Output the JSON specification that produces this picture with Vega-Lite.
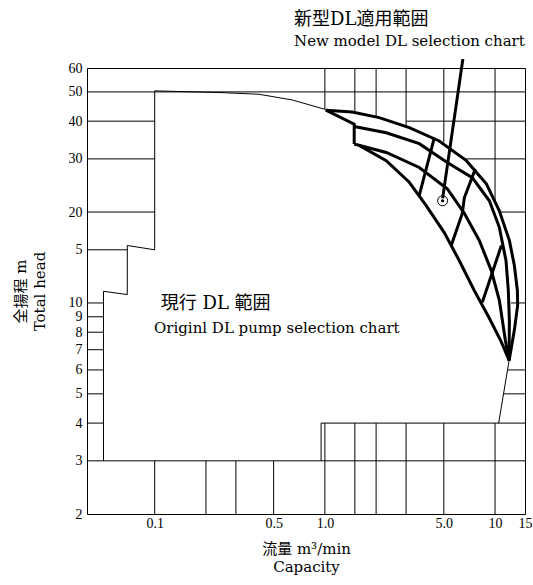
{
  "$schema": "https://vega.github.io/schema/vega-lite/v6.json",
  "autosize": {"type": "none"},
  "padding": {"left": 87, "top": 68, "right": 8, "bottom": 71},
  "width": 438,
  "height": 446,
  "background": "white",
  "config": {
    "view": {"stroke": "black", "strokeWidth": 1},
    "axis": {"grid": false, "ticks": false, "tickSize": 0, "domain": false, "labelColor": "black", "titleColor": "black", "titleFontWeight": "normal", "labelFont": "Liberation Serif", "titleFont": "DejaVu Serif, Noto Sans CJK JP", "labelOverlap": false, "labelFlush": false, "labelBound": false}
  },
  "title": {"text": "新型DL適用範囲", "subtitle": "New model DL selection chart", "anchor": "start", "frame": "group", "dx": 207, "offset": 4, "font": "DejaVu Serif, Noto Sans CJK JP", "subtitleFont": "DejaVu Serif, Noto Sans CJK JP", "fontSize": 18, "subtitleFontSize": 15, "fontWeight": "normal", "color": "black", "subtitleColor": "black", "subtitlePadding": 5},
  "datasets": {
    "grid": [
      {"x": 0.04, "x2": 0.05, "y": 4, "y2": 4},
      {"x": 0.04, "x2": 0.05, "y": 5, "y2": 5},
      {"x": 0.04, "x2": 0.05, "y": 6, "y2": 6},
      {"x": 0.04, "x2": 0.05, "y": 7, "y2": 7},
      {"x": 0.04, "x2": 0.05, "y": 8, "y2": 8},
      {"x": 0.04, "x2": 0.05, "y": 9, "y2": 9},
      {"x": 0.04, "x2": 0.05, "y": 10, "y2": 10},
      {"x": 0.04, "x2": 0.069, "y": 15, "y2": 15},
      {"x": 0.04, "x2": 0.1, "y": 20, "y2": 20},
      {"x": 0.04, "x2": 0.1, "y": 30, "y2": 30},
      {"x": 0.04, "x2": 0.1, "y": 40, "y2": 40},
      {"x": 0.04, "x2": 15, "y": 50, "y2": 50},
      {"x": 0.04, "x2": 15, "y": 3, "y2": 3},
      {"x": 3, "x2": 15, "y": 40, "y2": 40},
      {"x": 6.75, "x2": 15, "y": 30, "y2": 30},
      {"x": 10.7, "x2": 15, "y": 20, "y2": 20},
      {"x": 12.4, "x2": 15, "y": 10, "y2": 10},
      {"x": 11.8, "x2": 15, "y": 6, "y2": 6},
      {"x": 11.2, "x2": 15, "y": 5, "y2": 5},
      {"x": 0.95, "x2": 15, "y": 4, "y2": 4},
      {"x": 0.1, "x2": 0.1, "y": 2, "y2": 3},
      {"x": 0.2, "x2": 0.2, "y": 2, "y2": 3},
      {"x": 0.3, "x2": 0.3, "y": 2, "y2": 3},
      {"x": 0.5, "x2": 0.5, "y": 2, "y2": 3},
      {"x": 0.95, "x2": 0.95, "y": 3, "y2": 4},
      {"x": 1, "x2": 1, "y": 2, "y2": 4},
      {"x": 1.5, "x2": 1.5, "y": 2, "y2": 4},
      {"x": 2, "x2": 2, "y": 2, "y2": 4},
      {"x": 3, "x2": 3, "y": 2, "y2": 4},
      {"x": 5, "x2": 5, "y": 2, "y2": 4},
      {"x": 10, "x2": 10, "y": 2, "y2": 4},
      {"x": 1, "x2": 1, "y": 43.8, "y2": 60},
      {"x": 1.5, "x2": 1.5, "y": 42.8, "y2": 60},
      {"x": 2, "x2": 2, "y": 41.3, "y2": 60},
      {"x": 3, "x2": 3, "y": 38.4, "y2": 60},
      {"x": 5, "x2": 5, "y": 34.0, "y2": 60},
      {"x": 10, "x2": 10, "y": 21.7, "y2": 60}
    ],
    "boundary": [
      {"id": "b1", "o": 1, "x": 0.05, "y": 3},
      {"id": "b1", "o": 2, "x": 0.05, "y": 10.93},
      {"id": "b1", "o": 3, "x": 0.069, "y": 10.66},
      {"id": "b1", "o": 4, "x": 0.069, "y": 15.5},
      {"id": "b1", "o": 5, "x": 0.1, "y": 15.0},
      {"id": "b1", "o": 6, "x": 0.1, "y": 50.4},
      {"id": "b1", "o": 7, "x": 0.256, "y": 49.7},
      {"id": "b1", "o": 8, "x": 0.411, "y": 49.1},
      {"id": "b1", "o": 9, "x": 0.645, "y": 47.0},
      {"id": "b1", "o": 10, "x": 1.0, "y": 43.8},
      {"id": "b1", "o": 11, "x": 1.0136, "y": 43.5},
      {"id": "b2", "o": 1, "x": 12.1, "y": 6.45},
      {"id": "b2", "o": 2, "x": 10.5, "y": 4}
    ],
    "thick": [
      {"id": "A", "o": 1, "x": 1.0136, "y": 43.5},
      {"id": "A", "o": 2, "x": 1.447, "y": 42.9},
      {"id": "A", "o": 3, "x": 2.086, "y": 41.1},
      {"id": "A", "o": 4, "x": 3.133, "y": 38.1},
      {"id": "A", "o": 5, "x": 4.70, "y": 34.4},
      {"id": "A", "o": 6, "x": 6.78, "y": 29.6},
      {"id": "A", "o": 7, "x": 8.89, "y": 24.8},
      {"id": "A", "o": 8, "x": 10.6, "y": 20.2},
      {"id": "A", "o": 9, "x": 12.14, "y": 16.1},
      {"id": "A", "o": 10, "x": 12.99, "y": 13.3},
      {"id": "A", "o": 11, "x": 13.53, "y": 11.0},
      {"id": "A", "o": 12, "x": 13.58, "y": 9.83},
      {"id": "A", "o": 13, "x": 12.99, "y": 8.13},
      {"id": "A", "o": 14, "x": 12.1, "y": 6.45},
      {"id": "E", "o": 1, "x": 1.0136, "y": 43.5},
      {"id": "E", "o": 2, "x": 1.487, "y": 39.1},
      {"id": "E", "o": 3, "x": 1.487, "y": 33.6},
      {"id": "B", "o": 1, "x": 1.487, "y": 38.4},
      {"id": "B", "o": 2, "x": 2.294, "y": 36.6},
      {"id": "B", "o": 3, "x": 3.587, "y": 33.7},
      {"id": "B", "o": 4, "x": 5.24, "y": 29.2},
      {"id": "B", "o": 5, "x": 7.35, "y": 26.0},
      {"id": "B", "o": 6, "x": 9.26, "y": 21.8},
      {"id": "B", "o": 7, "x": 10.6, "y": 17.8},
      {"id": "B", "o": 8, "x": 11.6, "y": 13.8},
      {"id": "B", "o": 9, "x": 11.97, "y": 11.0},
      {"id": "B", "o": 10, "x": 12.14, "y": 8.77},
      {"id": "B", "o": 11, "x": 12.1, "y": 6.45},
      {"id": "C", "o": 1, "x": 1.487, "y": 33.6},
      {"id": "C", "o": 2, "x": 2.294, "y": 31.5},
      {"id": "C", "o": 3, "x": 3.587, "y": 28.1},
      {"id": "C", "o": 4, "x": 5.24, "y": 23.9},
      {"id": "C", "o": 5, "x": 6.60, "y": 19.8},
      {"id": "C", "o": 6, "x": 8.08, "y": 16.1},
      {"id": "C", "o": 7, "x": 9.51, "y": 12.8},
      {"id": "C", "o": 8, "x": 10.6, "y": 10.2},
      {"id": "C", "o": 9, "x": 11.5, "y": 7.53},
      {"id": "C", "o": 10, "x": 12.1, "y": 6.45},
      {"id": "D", "o": 1, "x": 1.6, "y": 33.2},
      {"id": "D", "o": 2, "x": 2.294, "y": 29.6},
      {"id": "D", "o": 3, "x": 3.133, "y": 25.1},
      {"id": "D", "o": 4, "x": 3.94, "y": 21.0},
      {"id": "D", "o": 5, "x": 5.03, "y": 17.1},
      {"id": "D", "o": 6, "x": 6.17, "y": 13.8},
      {"id": "D", "o": 7, "x": 7.55, "y": 11.0},
      {"id": "D", "o": 8, "x": 9.26, "y": 8.90},
      {"id": "D", "o": 9, "x": 10.9, "y": 7.42},
      {"id": "D", "o": 10, "x": 12.1, "y": 6.45},
      {"id": "X1", "o": 1, "x": 4.395, "y": 35.2},
      {"id": "X1", "o": 2, "x": 3.587, "y": 22.7},
      {"id": "X2", "o": 1, "x": 7.66, "y": 27.8},
      {"id": "X2", "o": 2, "x": 6.60, "y": 22.3},
      {"id": "X2", "o": 3, "x": 6.42, "y": 19.8},
      {"id": "X2", "o": 4, "x": 5.53, "y": 15.5},
      {"id": "X4", "o": 1, "x": 10.9, "y": 15.5},
      {"id": "X4", "o": 2, "x": 8.42, "y": 10.05},
      {"id": "P", "o": 1, "x": 4.92, "y": 22.2},
      {"id": "P", "o": 2, "x": 6.47, "y": 64.2}
    ],
    "marker": [
      {"x": 4.92, "y": 21.8}
    ],
    "label1": [
      {"x": 0.1085, "y": 9.95, "label": "現行 DL 範囲"}
    ],
    "label2": [
      {"x": 0.099, "y": 7.94, "label": "Originl DL pump selection chart"}
    ]
  },
  "encoding": {
    "x": {
      "field": "x", "type": "quantitative",
      "scale": {"type": "log", "domain": [0.04, 15], "nice": false, "zero": false},
      "axis": {
        "values": [0.1, 0.5, 1, 5, 10, 15],
        "labelExpr": "datum.value == 1 ? '1.0' : datum.value == 5 ? '5.0' : '' + datum.value",
        "labelFontSize": 14, "labelPadding": 2,
        "title": ["流量 m³/min", "Capacity"], "titleFontSize": 15, "titlePadding": 11, "titleLineHeight": 18
      }
    },
    "y": {
      "field": "y", "type": "quantitative",
      "scale": {"type": "log", "domain": [2, 60], "nice": false, "zero": false},
      "axis": {
        "values": [2, 3, 4, 5, 6, 7, 8, 9, 10, 15, 20, 30, 40, 50, 60],
        "labelExpr": "datum.value == 15 ? '5' : '' + datum.value",
        "labelFontSize": 14, "labelPadding": 5,
        "title": ["全揚程 m", "Total head"], "titleFontSize": 15, "titlePadding": 21, "titleLineHeight": 19
      }
    }
  },
  "layer": [
    {
      "data": {"name": "grid"},
      "mark": {"type": "rule", "color": "black", "strokeWidth": 1},
      "encoding": {"x2": {"field": "x2"}, "y2": {"field": "y2"}}
    },
    {
      "data": {"name": "boundary"},
      "mark": {"type": "line", "color": "black", "strokeWidth": 1},
      "encoding": {"detail": {"field": "id"}, "order": {"field": "o", "type": "quantitative"}}
    },
    {
      "data": {"name": "thick"},
      "mark": {"type": "line", "color": "black", "strokeWidth": 3, "strokeJoin": "miter", "clip": false},
      "encoding": {"detail": {"field": "id"}, "order": {"field": "o", "type": "quantitative"}}
    },
    {
      "data": {"name": "marker"},
      "mark": {"type": "point", "shape": "circle", "filled": false, "size": 100, "strokeWidth": 1, "color": "black", "opacity": 1}
    },
    {
      "data": {"name": "marker"},
      "mark": {"type": "point", "shape": "circle", "filled": true, "size": 10, "color": "black", "opacity": 1}
    },
    {
      "data": {"name": "label1"},
      "mark": {"type": "text", "align": "left", "baseline": "middle", "fontSize": 18, "font": "DejaVu Serif, Noto Sans CJK JP", "color": "black"},
      "encoding": {"text": {"field": "label"}}
    },
    {
      "data": {"name": "label2"},
      "mark": {"type": "text", "align": "left", "baseline": "alphabetic", "fontSize": 15, "font": "DejaVu Serif, Noto Sans CJK JP", "color": "black"},
      "encoding": {"text": {"field": "label"}}
    }
  ]
}
